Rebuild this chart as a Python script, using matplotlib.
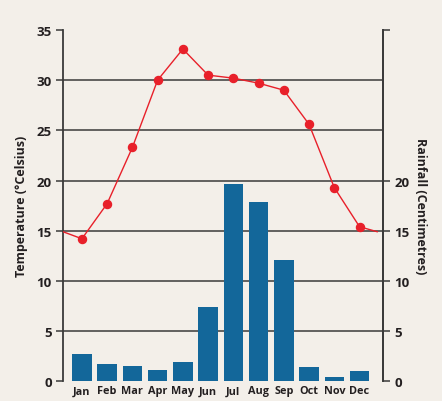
import matplotlib
matplotlib.use("Agg")
import matplotlib.pyplot as plt
import numpy as np

months = ["Jan", "Feb", "Mar", "Apr", "May", "Jun", "Jul", "Aug", "Sep", "Oct", "Nov", "Dec"]
temperature = [14.2, 17.7, 23.3, 30.0, 33.1, 30.5, 30.2, 29.7, 29.0, 25.6, 19.3, 15.4]
rainfall = [2.7, 1.7, 1.55, 1.1, 1.9, 7.4, 19.7, 17.9, 12.1, 1.4, 0.4, 1.0]
edge_temp = 14.9  # temperature where the line meets the chart edges
temp_ticks = [0, 5, 10, 15, 20, 25, 30, 35]
rain_ticks = [0, 5, 10, 15, 20]

bg = "#f3efe9"
txt = "#231f20"
plt.rcParams['font.family'] = ['Open Sans', 'DejaVu Sans']

fig = plt.figure(figsize=(4.42, 4.02), dpi=100, facecolor=bg)
ax = fig.add_axes([0.1425, 0.049, 0.724, 0.874])
ax.set_facecolor(bg)
x = np.arange(len(months))
xlim = (-0.75, 11.93)
ax.set_xlim(*xlim)
ax.set_ylim(0, 35)

for v in temp_ticks[1:-1]:
    ax.axhline(v, color="#3a3a3a", lw=1.1, zorder=1)

ax.bar(x, rainfall, width=0.77, color="#13679a", zorder=2)

lx = [xlim[0]] + list(x) + [11.7]
ly = [edge_temp] + temperature + [edge_temp]
ax.plot(lx, ly, color="#e8202a", lw=1.0, zorder=3)
ax.plot(x, temperature, 'o', color="#e8202a", ms=5.8, zorder=4)

for s in ["top", "bottom"]:
    ax.spines[s].set_visible(False)
for s in ["left", "right"]:
    ax.spines[s].set_color("#3a3a3a")
    ax.spines[s].set_linewidth(1.3)

ax.set_yticks(temp_ticks)
ax.set_yticklabels([str(t) for t in temp_ticks], fontsize=9.5, fontweight="bold", color=txt)
ax.tick_params(axis="y", length=5, width=1.1, color="#3a3a3a", pad=3)
ax.set_xticks(x)
ax.set_xticklabels(months, fontsize=7.8, fontweight="bold", color=txt)
ax.tick_params(axis="x", length=0, pad=3)
ax.set_ylabel("Temperature (°Celsius)", fontsize=9, fontweight="bold", color=txt, labelpad=6)

ax2 = ax.twinx()
ax2.set_ylim(0, 35)
ax2.set_yticks(rain_ticks + [35])
ax2.set_yticklabels([str(t) for t in rain_ticks] + [""], fontsize=9.5, fontweight="bold", color=txt)
ax2.tick_params(axis="y", length=5, width=1.1, color="#3a3a3a", pad=3)
for s in ["top", "bottom", "left"]:
    ax2.spines[s].set_visible(False)
ax2.spines["right"].set_color("#3a3a3a")
ax2.spines["right"].set_linewidth(1.3)
ax2.set_ylabel("Rainfall (Centimetres)", fontsize=9, fontweight="bold", color=txt, rotation=-90, labelpad=13)

fig.savefig("out.png", dpi=100, facecolor=bg)
